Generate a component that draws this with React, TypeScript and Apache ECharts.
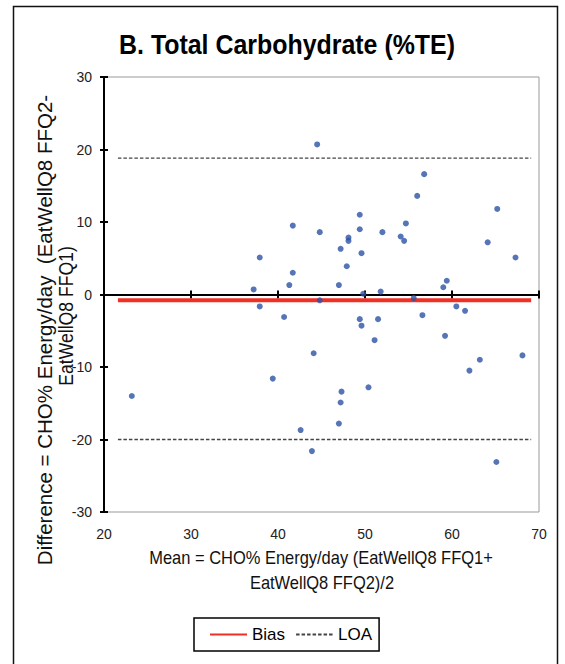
import React, { useEffect, useRef } from "react";
import * as echarts from "echarts";

// Bland-Altman data: [mean, difference]
const meanValues = [
  23.2, 37.2, 37.9, 37.9, 39.4, 40.7, 41.3, 41.7, 41.7, 42.6, 43.9, 44.1, 44.5, 44.8, 44.8,
  47.0, 47.0, 47.2, 47.2, 47.3, 47.9, 48.1, 48.1, 49.4, 49.4, 49.4, 49.6, 49.6, 49.8, 50.4,
  51.1, 51.5, 51.8, 52.0, 54.1, 54.5, 54.7, 55.6, 56.0, 56.6, 56.8, 59.0, 59.2, 59.4, 60.5,
  61.5, 62.0, 63.2, 64.1, 65.1, 65.2, 67.3, 68.1,
];
const diffValues = [
  -14.0, 0.7, 5.1, -1.65, -11.6, -3.1, 1.3, 3.0, 9.5, -18.7, -21.6, -8.1, 20.7, 8.6, -0.8,
  1.3, -17.8, 6.3, -14.9, -13.4, 3.9, 7.85, 7.4, 11.0, 9.0, -3.4, 5.7, -4.3, 0.1, -12.8,
  -6.3, -3.4, 0.4, 8.6, 8.0, 7.4, 9.8, -0.5, 13.6, -2.85, 16.6, 1.0, -5.7, 1.9, -1.65,
  -2.25, -10.5, -9.0, 7.2, -23.1, 11.8, 5.1, -8.4,
];
const biasValue = -0.8;
const loaUpper = 18.8;
const loaLower = -20.0;
const refLineStart = 21.6;
const refLineEnd = 69.1;

const xTicks = { min: 20, max: 70, interval: 10 };
const yTicks = { min: -30, max: 30, interval: 10 };

const titleText = "B. Total Carbohydrate (%TE)";
const xTitle1 = "Mean = CHO% Energy/day (EatWellQ8 FFQ1+";
const xTitle2 = "EatWellQ8 FFQ2)/2";
const yTitle1 = "Difference = CHO% Energy/day  (EatWellQ8 FFQ2-";
const yTitle2 = "EatWellQ8 FFQ1)";

const FONT = "'Liberation Sans', Arial, sans-serif";

export default function App() {
  const ref = useRef<HTMLDivElement>(null);

  useEffect(() => {
    document.body.style.margin = "0";
    if (!ref.current) return;
    const chart = echarts.init(ref.current, undefined, { renderer: "svg" });

    const points = meanValues.map((m, i) => [m, diffValues[i]]);

    const tickLine = { color: "#000", width: 2 };
    const baseX = { type: "value", min: xTicks.min, max: xTicks.max, interval: xTicks.interval, splitLine: { show: false } };
    const baseY = { type: "value", min: yTicks.min, max: yTicks.max, interval: yTicks.interval, splitLine: { show: false } };

    chart.setOption({
      animation: false,
      backgroundColor: "#fff",
      grid: {
        left: 104,
        right: 26,
        top: 77,
        bottom: 152,
        show: true,
        borderColor: "#9a9a9a",
        borderWidth: 1,
      },
      xAxis: [
        {
          ...baseX,
          position: "bottom",
          axisLine: { show: false, onZero: false },
          axisTick: { show: false },
          axisLabel: { margin: 15, fontSize: 14, fontFamily: FONT, color: "#222" },
        },
        {
          ...baseX,
          position: "bottom",
          axisLine: { show: true, onZero: true, lineStyle: tickLine },
          axisTick: { show: true, inside: false, length: 4, lineStyle: tickLine },
          axisLabel: { show: false },
        },
        {
          ...baseX,
          position: "bottom",
          axisLine: { show: true, onZero: true, lineStyle: tickLine },
          axisTick: { show: true, inside: true, length: 4, lineStyle: tickLine },
          axisLabel: { show: false },
        },
      ],
      yAxis: [
        {
          ...baseY,
          position: "left",
          axisLine: { show: true, onZero: false, lineStyle: tickLine },
          axisTick: { show: true, inside: false, length: 4, lineStyle: tickLine },
          axisLabel: { margin: 12, fontSize: 14, fontFamily: FONT, color: "#222" },
        },
        {
          ...baseY,
          position: "left",
          axisLine: { show: true, onZero: false, lineStyle: tickLine },
          axisTick: { show: true, inside: true, length: 4, lineStyle: tickLine },
          axisLabel: { show: false },
        },
      ],
      legend: {
        left: 194,
        top: 618,
        data: ["Bias", "LOA"],
        itemWidth: 37,
        itemHeight: 14,
        itemGap: 10,
        padding: [8, 7, 8, 15],
        borderColor: "#000",
        borderWidth: 1.5,
        borderRadius: 0,
        itemStyle: { opacity: 0 },
        textStyle: { fontSize: 17, fontFamily: FONT, color: "#000" },
      },
      series: [
        {
          name: "Bias",
          type: "line",
          symbol: "none",
          data: [
            [refLineStart, biasValue],
            [refLineEnd, biasValue],
          ],
          lineStyle: { color: "#ee3124", width: 4 },
          itemStyle: { color: "#ee3124" },
          z: 3,
        },
        {
          name: "LOA",
          type: "line",
          symbol: "none",
          data: [
            [refLineStart, loaUpper],
            [refLineEnd, loaUpper],
          ],
          lineStyle: { color: "#444", width: 1.3, type: [3.5, 2] },
          itemStyle: { color: "#444" },
          z: 3,
        },
        {
          name: "LOA",
          type: "line",
          symbol: "none",
          data: [
            [refLineStart, loaLower],
            [refLineEnd, loaLower],
          ],
          lineStyle: { color: "#444", width: 1.3, type: [3.5, 2] },
          itemStyle: { color: "#444" },
          z: 3,
        },
        {
          name: "Data",
          type: "scatter",
          data: points,
          symbol: "circle",
          symbolSize: 6,
          itemStyle: { color: "#2c53a5" },
          z: 4,
        },
      ],
      graphic: [
        {
          type: "rect",
          shape: { x: 13.5, y: 6.5, width: 544, height: 700 },
          style: { fill: "none", stroke: "#111", lineWidth: 1.5 },
          silent: true,
          z: 0,
        },
        {
          type: "text",
          x: 287,
          y: 44,
          scaleX: 0.89,
          style: {
            text: titleText,
            fontSize: 28,
            fontWeight: "bold",
            fontFamily: FONT,
            fill: "#000",
            align: "center",
            verticalAlign: "middle",
          },
        },
        {
          type: "text",
          x: 321,
          y: 558,
          scaleX: 0.89,
          style: { text: xTitle1, fontSize: 18.5, fontFamily: FONT, fill: "#111", align: "center", verticalAlign: "middle" },
        },
        {
          type: "text",
          x: 322,
          y: 583,
          scaleX: 0.89,
          style: { text: xTitle2, fontSize: 18.5, fontFamily: FONT, fill: "#111", align: "center", verticalAlign: "middle" },
        },
        {
          type: "text",
          x: 44,
          y: 330,
          rotation: Math.PI / 2,
          style: { text: yTitle1, fontSize: 20.5, fontFamily: FONT, fill: "#111", align: "center", verticalAlign: "middle" },
        },
        {
          type: "text",
          x: 66,
          y: 316,
          rotation: Math.PI / 2,
          scaleX: 0.88,
          style: { text: yTitle2, fontSize: 20, fontFamily: FONT, fill: "#111", align: "center", verticalAlign: "middle" },
        },
      ],
    });

    return () => chart.dispose();
  }, []);

  return <div ref={ref} style={{ width: 565, height: 664 }} />;
}
